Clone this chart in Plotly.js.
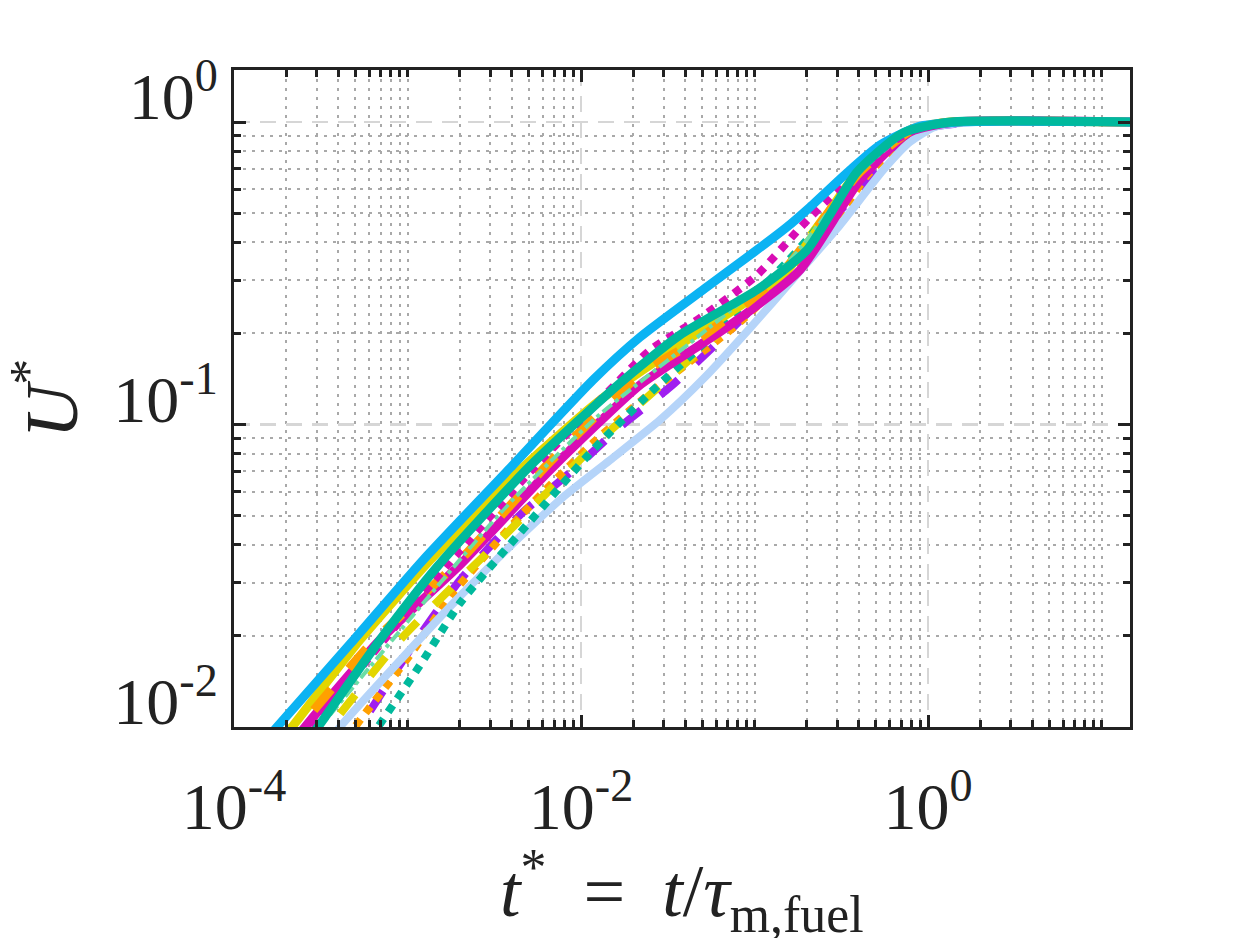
<!DOCTYPE html>
<html>
<head>
<meta charset="utf-8">
<script src="https://cdn.plot.ly/plotly-3.0.1.min.js"></script>
<style>
  body { margin: 0; background: #fff; }
  #chart { width: 1250px; height: 938px; }
</style>
</head>
<body>
<div id="chart"></div>
<script>
// values (t*, U*)
var tBlue = [1.321e-4, 1.77e-4, 4.667e-4, 1.227e-3, 3.9e-3, 0.01172, 0.02188, 0.0532, 0.1033, 0.1538, 0.2089, 0.3548, 0.5284, 0.865, 1.528, 14.6];
var uBlue = [0.00826, 0.01, 0.0188, 0.0356, 0.0718, 0.1403, 0.1945, 0.2851, 0.3776, 0.4498, 0.5236, 0.6934, 0.8395, 0.9627, 1.0, 1.0];

var tTeal = [2.399e-4, 3.048e-4, 6.934e-4, 1.479e-3, 5.08e-3, 0.01679, 0.0372, 0.1033, 0.2009, 0.3899, 0.7178, 1.34, 14.6];
var uTeal = [0.00826, 0.01, 0.0194, 0.0338, 0.0729, 0.1371, 0.1977, 0.2786, 0.3776, 0.6839, 0.920, 1.0, 1.0];

var tYellow = [1.656e-4, 2.158e-4, 5.321e-4, 1.349e-3, 4.446e-3, 0.01288, 0.0425, 0.1459, 0.4217, 0.787, 1.34, 14.6];
var uYellow = [0.00826, 0.01, 0.0194, 0.0356, 0.0707, 0.1205, 0.1932, 0.3119, 0.7211, 0.9419, 1.0, 1.0];

var tMagenta = [1.968e-4, 2.564e-4, 6.934e-4, 2.009e-3, 6.622e-3, 0.02188, 0.0485, 0.0824, 0.1828, 0.4055, 0.787, 1.432, 14.6];
var uMagenta = [0.00826, 0.01, 0.0194, 0.0344, 0.0707, 0.1352, 0.1832, 0.2249, 0.3243, 0.6427, 0.9268, 1.0, 1.0];

var tMagDot = [2.158e-4, 2.818e-4, 6.934e-4, 1.758e-3, 5.08e-3, 0.01288, 0.025, 0.0485, 0.1033, 0.1828, 0.2992, 0.5284, 0.8995, 1.528, 14.6];
var uMagDot = [0.00826, 0.01, 0.0187, 0.0351, 0.0697, 0.1205, 0.1762, 0.2249, 0.3119, 0.4467, 0.5957, 0.8072, 0.9616, 1.0, 1.0];

var tOrange = [1.841e-4, 2.399e-4, 6.081e-4, 2.009e-3, 6.622e-3, 0.02188, 0.0485, 0.1403, 0.4055, 0.8414, 1.432, 14.6];
var uOrange = [0.00826, 0.01, 0.0187, 0.0356, 0.0752, 0.1459, 0.1932, 0.3119, 0.6839, 0.955, 1.0, 1.0];

var tOrangeDot = [3.972e-4, 4.977e-4, 1.033e-3, 1.828e-3, 4.634e-3, 0.01172, 0.0285, 0.0824, 0.2388, 0.4634, 0.8995, 1.528, 14.6];
var uOrangeDot = [0.00826, 0.01, 0.0173, 0.0277, 0.0509, 0.0869, 0.1352, 0.2183, 0.3981, 0.6839, 0.9419, 1.0, 1.0];

var tTealDot = [5.47e-4, 6.761e-4, 1.18e-3, 2.009e-3, 4.446e-3, 0.01172, 0.025, 0.0485, 0.0824, 0.1538, 0.2173, 0.4055, 0.787, 1.432, 14.6];
var uTealDot = [0.00826, 0.01, 0.016, 0.0257, 0.0438, 0.0824, 0.1271, 0.1803, 0.2393, 0.3443, 0.4295, 0.6683, 0.9268, 1.0, 1.0];

var tPurple = [4.365e-4, 5.321e-4, 1.033e-3, 2.009e-3, 4.446e-3, 8.995e-3, 0.01679, 0.0326, 0.0608, 0.1119, 0.1828, 0.3548, 0.6281, 1.0, 1.995, 14.6];
var uPurple = [0.00826, 0.01, 0.018, 0.0306, 0.0502, 0.0707, 0.0982, 0.133, 0.1858, 0.2636, 0.369, 0.5521, 0.7907, 0.955, 1.0, 1.0];

var tLightBlue = [3.214e-4, 4.083e-4, 9.057e-4, 2.089e-3, 4.446e-3, 7.87e-3, 0.01469, 0.0285, 0.0519, 0.0942, 0.171, 0.3112, 0.5508, 0.787, 1.096, 1.866, 14.6];
var uLightBlue = [0.00826, 0.01, 0.0166, 0.0277, 0.0425, 0.0575, 0.0763, 0.1035, 0.1436, 0.2084, 0.3076, 0.4571, 0.6934, 0.859, 0.9627, 1.0, 1.0];

var tYellowDash = [2.818e-4, 3.573e-4, 9.057e-4, 3.412e-3, 0.01288, 0.0485, 0.1403, 0.4055, 0.8091, 1.432, 14.6];
var uYellowDash = [0.00826, 0.01, 0.0194, 0.0415, 0.0889, 0.1762, 0.3119, 0.6934, 0.9419, 1.0, 1.0];

var tGreen = [2.399e-4, 3.133e-4, 3.548e-3, 0.01236, 0.0485, 0.1603, 0.4055, 0.81, 1.432, 14.6];
var uGreen = [0.00826, 0.01, 0.0521, 0.1059, 0.1977, 0.3499, 0.6839, 0.94, 1.0, 1.0];

var xTickVals = [1e-4, 1e-2, 1];
var xTickExp = ["-4", "-2", "0"];
var yTickVals = [1e-2, 1e-1, 1];
var yTickExp = ["-2", "-1", "0"];

function powLabel(e) {
  return "10<sup>" + e + "</sup>";
}

// minor ticks at every digit, skipping the labelled ones
function minorTicks(lo, hi, major) {
  var out = [];
  for (var e = -5; e <= 2; e++) {
    for (var m = 1; m <= 9; m++) {
      var v = m * Math.pow(10, e);
      if (v < lo || v > hi) continue;
      if (m === 1 && major.some(function(k) { return Math.abs(k - v) / k < 1e-9; })) continue;
      out.push(v);
    }
  }
  return out;
}

function line(t, u, color, dash, width) {
  return {
    x: t, y: u, type: "scatter", mode: "lines",
    line: { color: color, dash: dash, width: width || 8, shape: "spline", smoothing: 0.6 },
    hoverinfo: "skip", showlegend: false
  };
}

var traces = [
  line(tPurple, uPurple, "#A01FF0", "dash"),
  line(tOrangeDot, uOrangeDot, "#FFA000", "dot"),
  line(tYellowDash, uYellowDash, "#E3D600", "dash"),
  line(tLightBlue, uLightBlue, "#B5D4F9", "solid"),
  line(tTealDot, uTealDot, "#00B99D", "dot"),
  line(tYellow, uYellow, "#E3D600", "solid", 9),
  line(tMagenta, uMagenta, "#D90DB5", "solid", 9),
  line(tOrange, uOrange, "#FFA000", "dash", 9),
  line(tGreen, uGreen, "#6BDDA6", "dashdot", 4),
  line(tMagDot, uMagDot, "#D90DB5", "dot"),
  line(tBlue, uBlue, "#0BB3F3", "solid", 9),
  line(tTeal, uTeal, "#00B99D", "solid", 9)
];

var axisColor = "#222222";
var serif = "Liberation Serif, Times New Roman, serif";
var tickFont = { family: serif, size: 66, color: axisColor };

function axisBase(range, vals, exps, lo, hi) {
  return {
    type: "log", range: range,
    tickmode: "array", tickvals: vals, ticktext: exps.map(powLabel),
    ticks: "inside", ticklen: 12, tickwidth: 3, tickcolor: axisColor,
    showline: true, linewidth: 3, linecolor: axisColor, mirror: "allticks",
    showgrid: true, gridcolor: "#d6d6d6", gridwidth: 2.5, griddash: "16px,10px",
    zeroline: false, tickfont: tickFont,
    minor: {
      tickmode: "array", tickvals: minorTicks(lo, hi, vals),
      ticks: "inside", ticklen: 7, tickwidth: 3, tickcolor: axisColor,
      showgrid: true, gridcolor: "#a9a9a9", gridwidth: 2, griddash: "3px,6px"
    }
  };
}

var xaxis = axisBase([-4, 1.164], xTickVals, xTickExp, 1e-4, 14.6);
xaxis.ticklabelstandoff = 20;

var yaxis = axisBase([-2, 0.172], yTickVals, yTickExp, 0.01, 1.486);
yaxis.ticklabelstandoff = 0;
yaxis.ticklabelshift = -26;
yaxis.title = {
  text: "<i>U</i><sup>*</sup>",
  font: { family: serif, size: 74, color: axisColor },
  standoff: 40
};

var layout = {
  width: 1250, height: 938,
  margin: { l: 234, r: 120, t: 70, b: 211 },
  paper_bgcolor: "#ffffff", plot_bgcolor: "#ffffff",
  xaxis: xaxis, yaxis: yaxis,
  showlegend: false,
  annotations: [{
    text: "<i>t</i><sup>*</sup>\u2002=\u2002<i>t</i>/<i>τ</i><sub>m,fuel</sub>",
    xref: "paper", yref: "paper", x: 0.5, y: -0.249,
    xanchor: "center", yanchor: "middle", showarrow: false,
    font: { family: serif, size: 74, color: axisColor }
  }]
};

Plotly.newPlot("chart", traces, layout, { displayModeBar: false, staticPlot: true });
</script>
</body>
</html>
